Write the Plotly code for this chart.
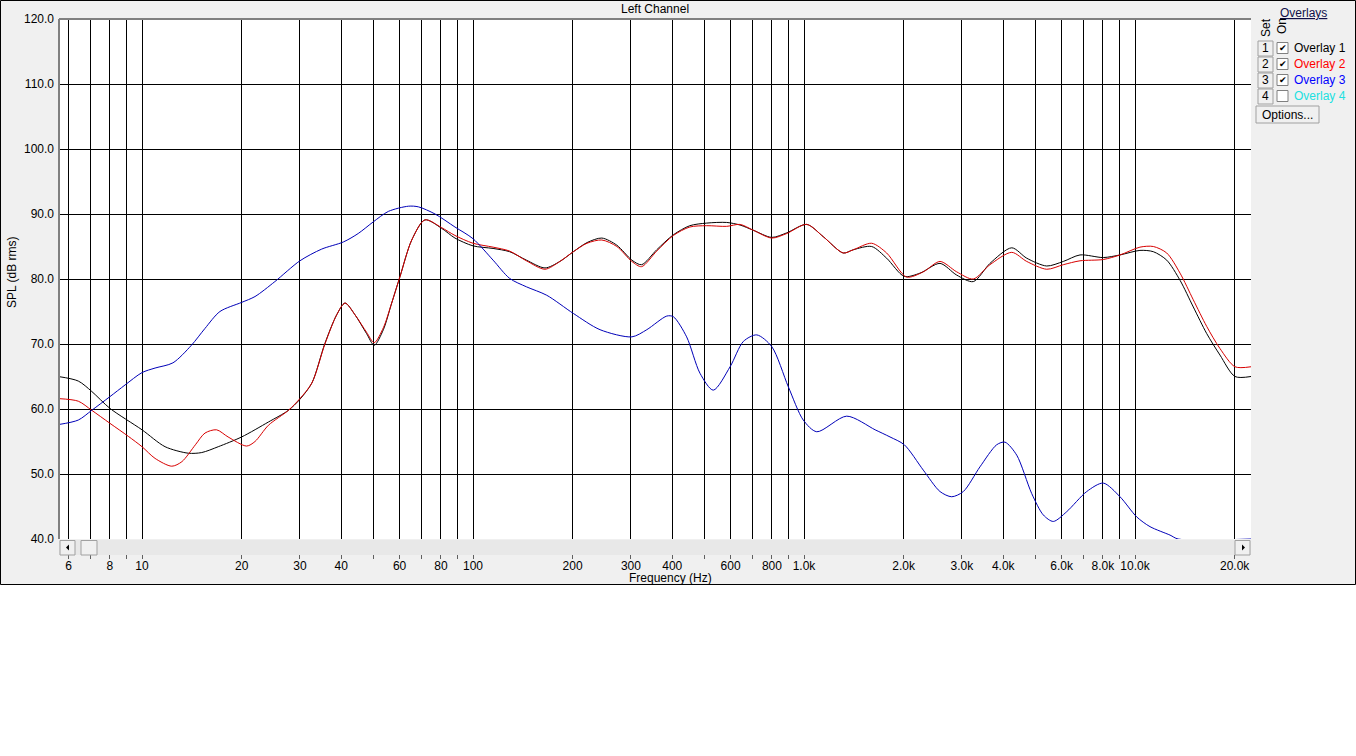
import plotly.graph_objects as go

# Overlay 1 (black)
freq_1 = [5.585, 6.42, 7.05, 8.0, 10.0, 11.74, 13.8, 15.15, 17.0, 20.0, 24.1, 27.7, 30.0, 32.6, 35.7,
          38.75, 41.06, 44.0, 47.7, 50.3, 53.6, 56.8, 60.2, 65.3, 71.6, 80.4, 88.2, 100, 115, 129, 145,
          165, 183, 201, 221, 245, 272, 302, 323, 359, 403, 452, 508, 584, 641, 703, 799, 887, 1019,
          1144, 1314, 1409, 1601, 1777, 2009, 2241, 2576, 2893, 3247, 3646, 4242, 4709, 5411, 6073,
          6821, 8020, 9009, 10350, 11360, 12470, 13680, 15000, 16470, 18060, 20050, 22410]
spl_1 = [65.0, 64.3, 62.7, 60.1, 56.8, 54.2, 53.2, 53.3, 54.2, 55.7, 58.0, 59.8, 61.5, 64.0, 70.1,
         74.5, 76.3, 74.5, 71.6, 69.8, 72.2, 76.3, 80.4, 86.0, 89.1, 87.8, 86.3, 85.1, 84.7, 84.2, 82.9,
         81.7, 82.7, 84.2, 85.6, 86.3, 85.2, 82.9, 82.2, 84.5, 86.8, 88.2, 88.6, 88.7, 88.3, 87.5, 86.4,
         87.1, 88.4, 86.5, 84.0, 84.5, 85.0, 83.2, 80.4, 80.9, 82.4, 80.6, 79.6, 82.4, 84.8, 83.2, 82.0,
         82.7, 83.7, 83.3, 83.7, 84.4, 84.2, 82.9, 79.8, 75.7, 71.6, 68.3, 65.0, 65.0]

# Overlay 2 (red)
freq_2 = [5.585, 6.42, 7.05, 8.0, 9.09, 10.0, 10.95, 12.3, 13.2, 14.5, 15.5, 16.8, 18.2, 20.7, 21.95,
          24.1, 27.7, 30.0, 32.6, 35.7, 38.75, 41.06, 44.0, 47.7, 50.3, 53.6, 56.8, 60.2, 65.3, 71.6,
          80.4, 88.2, 100, 115, 129, 145, 165, 183, 201, 221, 245, 272, 302, 323, 359, 403, 452, 508,
          584, 641, 703, 799, 887, 1019, 1144, 1314, 1409, 1601, 1777, 2042, 2293, 2576, 2893, 3247,
          3646, 4242, 4709, 5411, 6073, 6821, 8020, 9009, 10350, 11360, 12470, 13680, 15000, 16470,
          18060, 20050, 22410]
spl_2 = [61.6, 61.2, 59.8, 57.8, 55.8, 54.2, 52.4, 51.2, 51.9, 54.5, 56.3, 56.8, 55.7, 54.3, 55.0,
         57.5, 59.8, 61.6, 64.0, 70.0, 74.5, 76.3, 74.5, 71.8, 70.2, 72.5, 76.3, 80.4, 86.0, 89.1,
         87.9, 86.7, 85.5, 84.9, 84.3, 82.8, 81.5, 82.7, 84.2, 85.5, 86.0, 85.0, 82.7, 81.9, 84.3, 86.7,
         88.0, 88.2, 88.1, 88.4, 87.5, 86.3, 87.0, 88.4, 86.5, 84.0, 84.5, 85.5, 84.0, 80.3, 81.1, 82.7,
         81.1, 80.0, 82.2, 84.1, 82.7, 81.5, 82.2, 82.8, 83.0, 83.7, 84.9, 85.0, 84.0, 80.9, 76.8, 72.7,
         69.3, 66.5, 66.5]

# Overlay 3 (blue)
freq_3 = [5.585, 6.42, 7.05, 8.0, 8.89, 10.0, 10.95, 12.4, 14.1, 15.5, 17.2, 20.0, 21.95, 25.2, 30.0,
          34.9, 40.6, 45.0, 50.0, 55.5, 63.8, 68.4, 76.8, 88.2, 100, 115, 129, 145, 167, 201, 242,
          302, 335, 385, 403, 442, 485, 532, 598, 656, 720, 799, 897, 995, 1093, 1346, 1640, 1819,
          2009, 2293, 2576, 2794, 3029, 3401, 3821, 4048, 4392, 4874, 5284, 5665, 6218, 7147, 8020,
          9009, 10120, 11100, 12760, 13500, 22410]
spl_3 = [57.6, 58.3, 59.8, 61.9, 63.7, 65.6, 66.3, 67.1, 69.8, 72.4, 75.0, 76.4, 77.3, 79.6, 82.8,
         84.6, 85.7, 87.0, 88.8, 90.4, 91.2, 91.1, 90.0, 88.0, 86.2, 82.9, 80.1, 78.8, 77.5, 74.7, 72.2,
         71.1, 72.2, 74.3, 74.2, 71.1, 65.5, 62.9, 66.5, 70.4, 71.4, 69.6, 63.4, 58.3, 56.5, 58.9, 56.8,
         55.7, 54.5, 50.6, 47.3, 46.5, 47.3, 51.1, 54.5, 54.9, 52.9, 47.0, 43.7, 42.7, 44.2, 47.3, 48.6,
         46.5, 43.4, 41.9, 40.6, 40.0, 40.0]

grid_freqs = [6, 7, 8, 9, 10, 20, 30, 40, 50, 60, 70, 80, 90, 100, 200, 300, 400, 500, 600, 700, 800,
              900, 1000, 2000, 3000, 4000, 5000, 6000, 7000, 8000, 9000, 10000, 20000]
grid_labels = ["6", "", "8", "", "10", "20", "30", "40", "", "60", "", "80", "", "100", "200", "300",
               "400", "", "600", "", "800", "", "1.0k", "2.0k", "3.0k", "4.0k", "", "6.0k", "", "8.0k",
               "", "10.0k", "20.0k"]

overlay_names = ["Overlay 1", "Overlay 2", "Overlay 3", "Overlay 4"]
overlay_colors = ["#000000", "#ff0000", "#0000ff", "#20e0e0"]
overlay_on = [True, True, True, False]

W, H = 1356, 756
L, R, T, B = 59, 1251, 19, 539
FONT = "Liberation Sans, Arial, sans-serif"


def px(x):
    return (x - L) / (R - L)


def py(y):
    return (B - y) / (B - T)


def label(text, x, y, **kw):
    d = dict(text=text, x=px(x), y=py(y), xref="paper", yref="paper", showarrow=False,
             xanchor="center", yanchor="middle", font=dict(size=12, color="#000000"))
    d.update(kw)
    return d


fig = go.Figure()
fig.add_trace(go.Scatter(x=freq_1, y=spl_1, mode="lines", name="Overlay 1",
                         line=dict(color="#000000", width=1, shape="spline", smoothing=0.8)))
fig.add_trace(go.Scatter(x=freq_2, y=spl_2, mode="lines", name="Overlay 2",
                         line=dict(color="#d80000", width=1, shape="spline", smoothing=0.8)))
fig.add_trace(go.Scatter(x=freq_3, y=spl_3, mode="lines", name="Overlay 3",
                         line=dict(color="#0000b8", width=1, shape="spline", smoothing=0.8)))

shapes = []
# white area below the window
shapes.append(dict(type="rect", xref="paper", yref="paper", x0=px(-5), x1=px(W + 5), y0=py(585), y1=py(H + 5),
                   fillcolor="white", line=dict(width=0), layer="below"))
# window border
shapes.append(dict(type="rect", xref="paper", yref="paper", x0=px(0.5), x1=px(1355.5), y0=py(584.5), y1=py(0.5),
                   line=dict(color="#000000", width=1), layer="below"))
# plot frame top/left (sunken)
shapes.append(dict(type="line", xref="paper", yref="paper", x0=px(L), x1=px(R), y0=py(T), y1=py(T),
                   line=dict(color="#808080", width=2)))
shapes.append(dict(type="line", xref="paper", yref="paper", x0=px(L), x1=px(L), y0=py(T), y1=py(B),
                   line=dict(color="#808080", width=2)))
# scrollbar
shapes.append(dict(type="rect", xref="paper", yref="paper", x0=px(L), x1=px(R), y0=py(555), y1=py(540),
                   fillcolor="#e8e8e8", line=dict(width=0)))
for bx0, bx1 in [(60, 75), (81, 97), (1235, 1250)]:
    shapes.append(dict(type="rect", xref="paper", yref="paper", x0=px(bx0), x1=px(bx1), y0=py(555), y1=py(540.5),
                       fillcolor="#f0f0f0", line=dict(color="#a0a0a0", width=1)))
shapes.append(dict(type="path", xref="paper", yref="paper",
                   path="M %f,%f L %f,%f L %f,%f Z" % (px(66), py(547.5), px(69), py(544.5), px(69), py(550.5)),
                   fillcolor="#000000", line=dict(width=0)))
shapes.append(dict(type="path", xref="paper", yref="paper",
                   path="M %f,%f L %f,%f L %f,%f Z" % (px(1245), py(547.5), px(1242), py(544.5), px(1242), py(550.5)),
                   fillcolor="#000000", line=dict(width=0)))

annotations = [
    label("Left Channel", 655, 9),
    label("Frequency (Hz)", 670, 578),
    label("SPL (dB rms)", 12, 272, textangle=-90),
    label("<u>Overlays</u>", 1303, 13, font=dict(size=12, color="#10104a")),
    label("Set", 1266, 28, textangle=-90),
    label("On", 1282, 26, textangle=-90),
]

# overlay panel
for i, name in enumerate(overlay_names):
    yc = 48 + 16 * i
    shapes.append(dict(type="rect", xref="paper", yref="paper", x0=px(1258), x1=px(1273),
                       y0=py(yc + 8), y1=py(yc - 7), fillcolor="#f0f0f0",
                       line=dict(color="#a0a0a0", width=1)))
    shapes.append(dict(type="rect", xref="paper", yref="paper", x0=px(1277), x1=px(1288),
                       y0=py(yc + 5.5), y1=py(yc - 5.5), fillcolor="#ffffff",
                       line=dict(color="#808080", width=1)))
    annotations.append(label(str(i + 1), 1265.5, yc))
    if overlay_on[i]:
        annotations.append(label("\u2714", 1282.5, yc, font=dict(size=9, color="#000000")))
    annotations.append(label(name, 1292, yc, xanchor="left",
                             font=dict(size=12, color=overlay_colors[i])))
shapes.append(dict(type="rect", xref="paper", yref="paper", x0=px(1256), x1=px(1319),
                   y0=py(123), y1=py(106), fillcolor="#f0f0f0", line=dict(color="#a0a0a0", width=1)))
annotations.append(label("Options...", 1287.5, 114.5))

fig.update_layout(
    width=W, height=H,
    margin=dict(l=L, r=W - R, t=T, b=H - B, pad=0),
    paper_bgcolor="#f0f0f0",
    plot_bgcolor="#ffffff",
    font=dict(family=FONT, size=12, color="#000000"),
    showlegend=False,
    shapes=shapes,
    annotations=annotations,
)
fig.update_xaxes(
    type="log",
    range=[1 + (L - 142) / 331, 1 + (R - 142) / 331],
    tickvals=grid_freqs, ticktext=grid_labels,
    showgrid=True, gridcolor="#000000", gridwidth=1,
    ticks="outside", ticklen=19, tickcolor="#606060", tickwidth=1,
    ticklabelstandoff=-3,
    showline=False, zeroline=False,
    tickfont=dict(size=12, color="#000000"),
)
fig.update_yaxes(
    range=[40, 120], dtick=10, tickformat=".1f",
    showgrid=True, gridcolor="#000000", gridwidth=1,
    ticks="", showline=False, zeroline=False,
    ticklabelstandoff=4,
    tickfont=dict(size=12, color="#000000"),
)

fig.write_html("out.html", config={"displayModeBar": False},
               post_script="document.body.style.margin='0';")
